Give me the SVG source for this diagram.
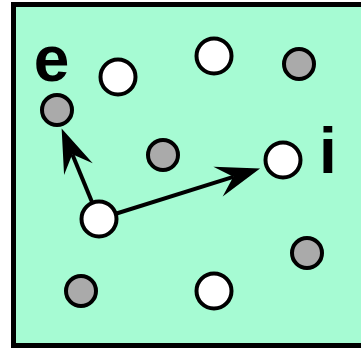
<svg xmlns="http://www.w3.org/2000/svg" width="361" height="348" viewBox="0 0 361 348">
<style>
.white{fill:#ffffff;stroke:#000;stroke-width:4}
.gray{fill:#aaaaaa;stroke:#000;stroke-width:4}
.edge{stroke:#000;stroke-width:4;fill:none}
.lbl{font-family:"Liberation Sans",Arial,sans-serif;font-weight:bold;font-size:64px;fill:#000;text-anchor:middle}
</style>
<defs>
<marker id="ah" markerUnits="userSpaceOnUse" viewBox="0 0 44 31" markerWidth="44" markerHeight="31" refX="16" refY="15.5" orient="auto" overflow="visible">
<path d="M44,15.5 L0,0 L16,15.5 L0,31 Z" fill="#000"/>
</marker>
</defs>
<rect x="13.5" y="4.5" width="360" height="341" fill="#a6fbd3" stroke="#000" stroke-width="5"/>
<g id="connectors">
<line class="edge" x1="99" y1="219" x2="72.3" y2="154.3" marker-end="url(#ah)"/>
<line class="edge" x1="99" y1="219" x2="233.3" y2="176.8" marker-end="url(#ah)"/>
</g>
<g id="n1"><circle class="white" cx="118" cy="77" r="17.5"/></g>
<g id="n2"><circle class="white" cx="214" cy="56" r="17.5"/></g>
<g id="n3"><circle class="gray" cx="299" cy="64" r="15"/></g>
<g id="e"><circle class="gray" cx="57" cy="110" r="15"/><text class="lbl" x="51.5" y="81">e</text></g>
<g id="n5"><circle class="gray" cx="163" cy="155" r="15"/></g>
<g id="i"><circle class="white" cx="283" cy="160" r="17.5"/><text class="lbl" x="328" y="173">i</text></g>
<g id="n7"><circle class="white" cx="99" cy="219" r="17.5"/></g>
<g id="n8"><circle class="gray" cx="307" cy="253" r="15"/></g>
<g id="n9"><circle class="gray" cx="81" cy="291" r="15"/></g>
<g id="n10"><circle class="white" cx="214" cy="291" r="17.5"/></g>
</svg>
